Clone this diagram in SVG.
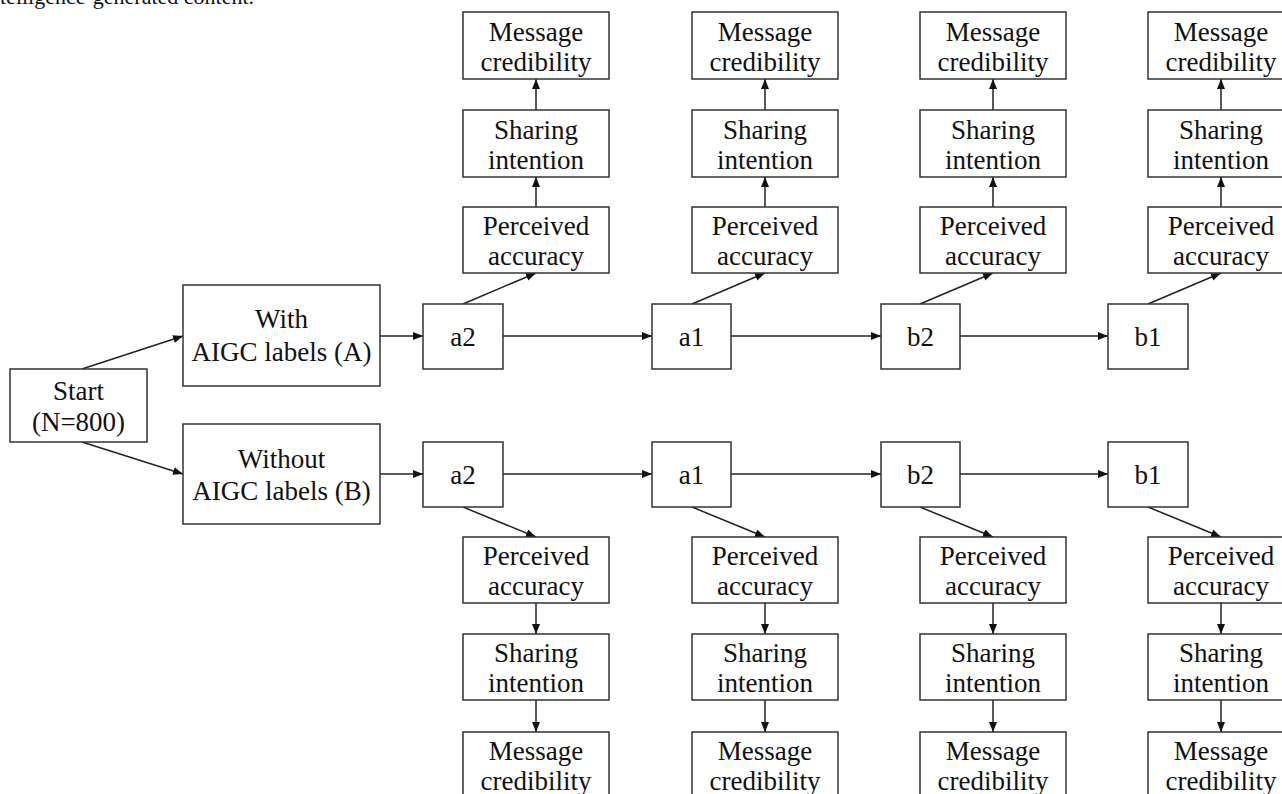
<svg xmlns="http://www.w3.org/2000/svg" width="1282" height="794" viewBox="0 0 1282 794">
<defs>
<marker id="ah" viewBox="0 0 10 8" refX="10" refY="4" markerWidth="10" markerHeight="8" markerUnits="userSpaceOnUse" orient="auto">
<path d="M0,0 L10,4 L0,8 z" fill="#111"/>
</marker>
</defs>
<style>
rect{fill:#fff;stroke:#333;stroke-width:1.5}
text{font-family:"Liberation Serif","Times New Roman",serif;font-size:27px;fill:#111;text-anchor:middle}
#connectors line{stroke:#222;stroke-width:1.5;marker-end:url(#ah)}
</style>
<rect x="-10" y="-10" width="1302" height="814" style="fill:#fff;stroke:none"/>
<text x="0" y="4" style="font-size:22px;text-anchor:start">telligence-generated content.</text>

<g id="connectors">
<line x1="82" y1="369" x2="183" y2="336"/>
<line x1="82" y1="442" x2="183" y2="474"/>
<line x1="380" y1="336" x2="423" y2="336"/>
<line x1="380" y1="474" x2="423" y2="474"/>
<line x1="503" y1="336" x2="652" y2="336"/>
<line x1="731" y1="336" x2="881" y2="336"/>
<line x1="960" y1="336" x2="1108" y2="336"/>
<line x1="503" y1="474" x2="652" y2="474"/>
<line x1="731" y1="474" x2="881" y2="474"/>
<line x1="960" y1="474" x2="1108" y2="474"/>
<line x1="463" y1="304" x2="536" y2="273"/>
<line x1="692" y1="304" x2="765" y2="273"/>
<line x1="920" y1="304" x2="993" y2="273"/>
<line x1="1148" y1="304" x2="1221" y2="273"/>
<line x1="463" y1="507" x2="536" y2="537"/>
<line x1="692" y1="507" x2="765" y2="537"/>
<line x1="920" y1="507" x2="993" y2="537"/>
<line x1="1148" y1="507" x2="1221" y2="537"/>
<line x1="536" y1="207" x2="536" y2="177"/>
<line x1="536" y1="110" x2="536" y2="79"/>
<line x1="765" y1="207" x2="765" y2="177"/>
<line x1="765" y1="110" x2="765" y2="79"/>
<line x1="993" y1="207" x2="993" y2="177"/>
<line x1="993" y1="110" x2="993" y2="79"/>
<line x1="1221" y1="207" x2="1221" y2="177"/>
<line x1="1221" y1="110" x2="1221" y2="79"/>
<line x1="536" y1="603" x2="536" y2="634"/>
<line x1="536" y1="700" x2="536" y2="732"/>
<line x1="765" y1="603" x2="765" y2="634"/>
<line x1="765" y1="700" x2="765" y2="732"/>
<line x1="993" y1="603" x2="993" y2="634"/>
<line x1="993" y1="700" x2="993" y2="732"/>
<line x1="1221" y1="603" x2="1221" y2="634"/>
<line x1="1221" y1="700" x2="1221" y2="732"/>
</g>

<g id="start"><rect x="10" y="369" width="137" height="73"/><text x="78.5" y="400">Start</text><text x="78.5" y="431">(N=800)</text></g>
<g id="with"><rect x="183" y="285" width="197" height="101"/><text x="281.5" y="328">With</text><text x="281.5" y="361">AIGC labels (A)</text></g>
<g id="without"><rect x="183" y="424" width="197" height="100"/><text x="281.5" y="468">Without</text><text x="281.5" y="500">AIGC labels (B)</text></g>

<g id="A-a2"><rect x="423" y="304" width="80" height="65"/><text x="463" y="346">a2</text></g>
<g id="A-a1"><rect x="652" y="304" width="79" height="65"/><text x="691.5" y="346">a1</text></g>
<g id="A-b2"><rect x="881" y="304" width="79" height="65"/><text x="920.5" y="346">b2</text></g>
<g id="A-b1"><rect x="1108" y="304" width="80" height="65"/><text x="1148" y="346">b1</text></g>
<g id="B-a2"><rect x="423" y="442" width="80" height="65"/><text x="463" y="484">a2</text></g>
<g id="B-a1"><rect x="652" y="442" width="79" height="65"/><text x="691.5" y="484">a1</text></g>
<g id="B-b2"><rect x="881" y="442" width="79" height="65"/><text x="920.5" y="484">b2</text></g>
<g id="B-b1"><rect x="1108" y="442" width="80" height="65"/><text x="1148" y="484">b1</text></g>

<g id="A1-msg"><rect x="463" y="12" width="146" height="67"/><text x="536" y="41">Message</text><text x="536" y="71">credibility</text></g>
<g id="A1-share"><rect x="463" y="110" width="146" height="67"/><text x="536" y="139">Sharing</text><text x="536" y="169">intention</text></g>
<g id="A1-acc"><rect x="463" y="207" width="146" height="66"/><text x="536" y="235">Perceived</text><text x="536" y="265">accuracy</text></g>
<g id="A2-msg"><rect x="692" y="12" width="146" height="67"/><text x="765" y="41">Message</text><text x="765" y="71">credibility</text></g>
<g id="A2-share"><rect x="692" y="110" width="146" height="67"/><text x="765" y="139">Sharing</text><text x="765" y="169">intention</text></g>
<g id="A2-acc"><rect x="692" y="207" width="146" height="66"/><text x="765" y="235">Perceived</text><text x="765" y="265">accuracy</text></g>
<g id="A3-msg"><rect x="920" y="12" width="146" height="67"/><text x="993" y="41">Message</text><text x="993" y="71">credibility</text></g>
<g id="A3-share"><rect x="920" y="110" width="146" height="67"/><text x="993" y="139">Sharing</text><text x="993" y="169">intention</text></g>
<g id="A3-acc"><rect x="920" y="207" width="146" height="66"/><text x="993" y="235">Perceived</text><text x="993" y="265">accuracy</text></g>
<g id="A4-msg"><rect x="1148" y="12" width="146" height="67"/><text x="1221" y="41">Message</text><text x="1221" y="71">credibility</text></g>
<g id="A4-share"><rect x="1148" y="110" width="146" height="67"/><text x="1221" y="139">Sharing</text><text x="1221" y="169">intention</text></g>
<g id="A4-acc"><rect x="1148" y="207" width="146" height="66"/><text x="1221" y="235">Perceived</text><text x="1221" y="265">accuracy</text></g>

<g id="B1-acc"><rect x="463" y="537" width="146" height="66"/><text x="536" y="565">Perceived</text><text x="536" y="595">accuracy</text></g>
<g id="B1-share"><rect x="463" y="634" width="146" height="66"/><text x="536" y="662">Sharing</text><text x="536" y="692">intention</text></g>
<g id="B1-msg"><rect x="463" y="732" width="146" height="67"/><text x="536" y="760">Message</text><text x="536" y="790">credibility</text></g>
<g id="B2-acc"><rect x="692" y="537" width="146" height="66"/><text x="765" y="565">Perceived</text><text x="765" y="595">accuracy</text></g>
<g id="B2-share"><rect x="692" y="634" width="146" height="66"/><text x="765" y="662">Sharing</text><text x="765" y="692">intention</text></g>
<g id="B2-msg"><rect x="692" y="732" width="146" height="67"/><text x="765" y="760">Message</text><text x="765" y="790">credibility</text></g>
<g id="B3-acc"><rect x="920" y="537" width="146" height="66"/><text x="993" y="565">Perceived</text><text x="993" y="595">accuracy</text></g>
<g id="B3-share"><rect x="920" y="634" width="146" height="66"/><text x="993" y="662">Sharing</text><text x="993" y="692">intention</text></g>
<g id="B3-msg"><rect x="920" y="732" width="146" height="67"/><text x="993" y="760">Message</text><text x="993" y="790">credibility</text></g>
<g id="B4-acc"><rect x="1148" y="537" width="146" height="66"/><text x="1221" y="565">Perceived</text><text x="1221" y="595">accuracy</text></g>
<g id="B4-share"><rect x="1148" y="634" width="146" height="66"/><text x="1221" y="662">Sharing</text><text x="1221" y="692">intention</text></g>
<g id="B4-msg"><rect x="1148" y="732" width="146" height="67"/><text x="1221" y="760">Message</text><text x="1221" y="790">credibility</text></g>
</svg>
